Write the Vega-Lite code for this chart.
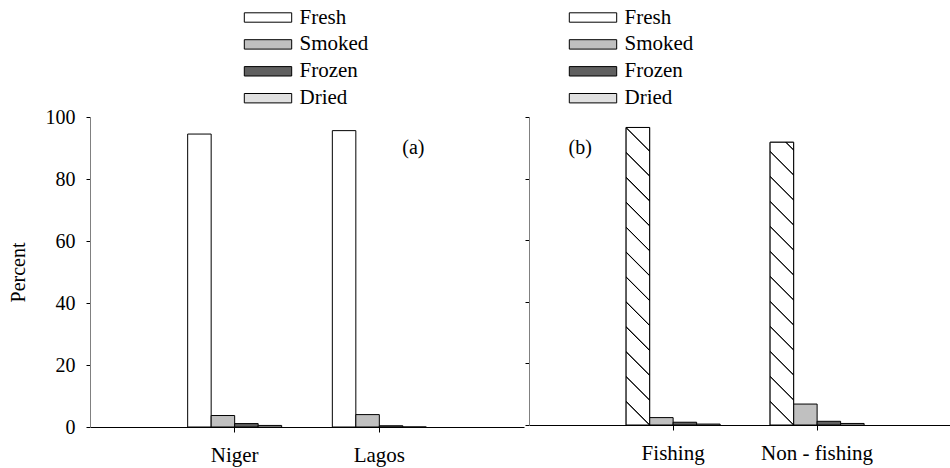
{
  "$schema": "https://vega.github.io/schema/vega-lite/v6.json",
  "padding": {"left": 8, "top": 7, "right": 0, "bottom": 4},
  "config": {
    "view": {"stroke": null},
    "font": "Liberation Serif",
    "axis": {"grid": false, "labelFont": "Liberation Serif", "titleFont": "Liberation Serif", "labelColor": "#000", "titleColor": "#000", "tickColor": "#000", "labelFontSize": 20, "titleFontSize": 20, "titleFontWeight": "normal"},
    "legend": {"labelFont": "Liberation Serif", "labelFontSize": 21, "labelColor": "#000"},
    "text": {"font": "Liberation Serif", "fontSize": 20, "color": "#000"}
  },
  "datasets": {
    "a": [
      {"site": "Niger", "type": "Fresh", "percent": 94.5},
      {"site": "Niger", "type": "Smoked", "percent": 3.7},
      {"site": "Niger", "type": "Frozen", "percent": 1.1},
      {"site": "Niger", "type": "Dried", "percent": 0.5},
      {"site": "Lagos", "type": "Fresh", "percent": 95.6},
      {"site": "Lagos", "type": "Smoked", "percent": 4.0},
      {"site": "Lagos", "type": "Frozen", "percent": 0.4},
      {"site": "Lagos", "type": "Dried", "percent": 0.0}
    ],
    "b": [
      {"group": "Fishing", "type": "Fresh", "percent": 96.6},
      {"group": "Fishing", "type": "Smoked", "percent": 2.4},
      {"group": "Fishing", "type": "Frozen", "percent": 0.9},
      {"group": "Fishing", "type": "Dried", "percent": 0.3},
      {"group": "Non - fishing", "type": "Fresh", "percent": 91.8},
      {"group": "Non - fishing", "type": "Smoked", "percent": 6.8},
      {"group": "Non - fishing", "type": "Frozen", "percent": 1.2},
      {"group": "Non - fishing", "type": "Dried", "percent": 0.5}
    ]
  },
  "spacing": 0,
  "resolve": {"scale": {"x": "independent", "y": "independent", "fill": "independent", "xOffset": "independent"}, "legend": {"fill": "independent"}, "axis": {"x": "independent", "y": "independent"}},
  "hconcat": [
    {
      "width": 434,
      "height": 310,
      "layer": [
        {
          "data": {"name": "a"},
          "mark": {"type": "bar", "stroke": "#000", "strokeWidth": 1},
          "encoding": {
            "x": {"field": "site", "type": "nominal", "sort": null, "scale": {"paddingInner": 0.3502, "paddingOuter": 0.6751}, "axis": {"title": null, "labelAngle": 0, "tickSize": 5, "labelPadding": 12, "labelFontSize": 21, "domainColor": "#000", "domainWidth": 1}},
            "xOffset": {"field": "type", "type": "nominal", "sort": null, "scale": {"paddingInner": 0, "paddingOuter": 0}},
            "y": {"field": "percent", "type": "quantitative", "scale": {"domain": [0, 100], "nice": false}, "axis": {"title": "Percent", "values": [0, 20, 40, 60, 80, 100], "tickSize": 4, "labelPadding": 11, "titlePadding": 17, "domainColor": "#808080", "domainWidth": 1}},
            "fill": {
              "field": "type", "type": "nominal",
              "scale": {"domain": ["Fresh", "Smoked", "Frozen", "Dried"], "range": ["#ffffff", "#c0c0c0", "#606060", "#e0e0e0"]},
              "legend": {"title": null, "orient": "none", "legendX": 167.5, "legendY": -110, "direction": "vertical", "symbolType": "M-4.74,-0.94H4.74V0.94H-4.74Z", "symbolSize": 100, "symbolStrokeColor": "#000", "symbolStrokeWidth": 1, "labelOffset": 21, "rowPadding": 4.9, "padding": 0}
            }
          }
        },
        {
          "data": {"values": [{"label": "(a)"}]},
          "mark": {"type": "text", "dx": 34, "fontSize": 20},
          "encoding": {
            "x": {"datum": "Lagos", "type": "nominal"},
            "y": {"datum": 90, "type": "quantitative"},
            "text": {"field": "label", "type": "nominal"}
          }
        }
      ]
    },
    {
      "width": 423,
      "height": 308,
      "layer": [
        {
          "data": {"name": "b"},
          "mark": {"type": "bar", "stroke": "#000", "strokeWidth": 1},
          "encoding": {
            "x": {"field": "group", "type": "nominal", "sort": null, "scale": {"paddingInner": 0.3472, "paddingOuter": 0.6424, "align": 0.525}, "axis": {"title": null, "labelAngle": 0, "tickSize": 5, "labelPadding": 12, "labelFontSize": 21, "domainColor": "#000", "domainWidth": 1}},
            "xOffset": {"field": "type", "type": "nominal", "sort": null, "scale": {"paddingInner": 0, "paddingOuter": 0}},
            "y": {"field": "percent", "type": "quantitative", "scale": {"domain": [0, 100], "nice": false}, "axis": {"title": null, "labels": false, "values": [0, 20, 40, 60, 80, 100], "tickSize": 4, "domainColor": "#808080", "domainWidth": 1}},
            "fill": {
              "field": "type", "type": "nominal",
              "scale": {"domain": ["Fresh", "Smoked", "Frozen", "Dried"], "range": ["#ffffff", "#c0c0c0", "#606060", "#e0e0e0"]},
              "legend": {"title": null, "orient": "none", "legendX": 53.5, "legendY": -110, "direction": "vertical", "symbolType": "M-4.74,-0.94H4.74V0.94H-4.74Z", "symbolSize": 100, "symbolStrokeColor": "#000", "symbolStrokeWidth": 1, "labelOffset": 21, "rowPadding": 4.9, "padding": 0,
                "encode": {"symbols": {"update": {
                  "stroke": {"value": "#000000"},
                  "strokeWidth": {"value": 1}
                }}}
              }
            }
          }
        },
        {
          "data": {"name": "b"},
          "transform": [{"filter": "datum.type === 'Fresh' && datum.group === 'Fishing'"}],
          "mark": {"type": "bar", "stroke": "#000", "strokeWidth": 1, "fill": {"gradient": "linear", "x1": 0, "y1": 1, "x2": 0.0853, "y2": -0.08, "stops": [
                  {"offset": 0, "color": "#ffffff"},
                  {"offset": 0.0691, "color": "#ffffff"}, {"offset": 0.0716, "color": "#000000"}, {"offset": 0.0736, "color": "#000000"}, {"offset": 0.0761, "color": "#ffffff"},
                  {"offset": 0.1461, "color": "#ffffff"}, {"offset": 0.1486, "color": "#000000"}, {"offset": 0.1506, "color": "#000000"}, {"offset": 0.1531, "color": "#ffffff"},
                  {"offset": 0.2231, "color": "#ffffff"}, {"offset": 0.2256, "color": "#000000"}, {"offset": 0.2276, "color": "#000000"}, {"offset": 0.2301, "color": "#ffffff"},
                  {"offset": 0.3001, "color": "#ffffff"}, {"offset": 0.3026, "color": "#000000"}, {"offset": 0.3046, "color": "#000000"}, {"offset": 0.3071, "color": "#ffffff"},
                  {"offset": 0.3771, "color": "#ffffff"}, {"offset": 0.3796, "color": "#000000"}, {"offset": 0.3816, "color": "#000000"}, {"offset": 0.3841, "color": "#ffffff"},
                  {"offset": 0.4541, "color": "#ffffff"}, {"offset": 0.4566, "color": "#000000"}, {"offset": 0.4586, "color": "#000000"}, {"offset": 0.4611, "color": "#ffffff"},
                  {"offset": 0.5311, "color": "#ffffff"}, {"offset": 0.5336, "color": "#000000"}, {"offset": 0.5356, "color": "#000000"}, {"offset": 0.5381, "color": "#ffffff"},
                  {"offset": 0.6081, "color": "#ffffff"}, {"offset": 0.6106, "color": "#000000"}, {"offset": 0.6126, "color": "#000000"}, {"offset": 0.6151, "color": "#ffffff"},
                  {"offset": 0.6851, "color": "#ffffff"}, {"offset": 0.6876, "color": "#000000"}, {"offset": 0.6896, "color": "#000000"}, {"offset": 0.6921, "color": "#ffffff"},
                  {"offset": 0.7621, "color": "#ffffff"}, {"offset": 0.7646, "color": "#000000"}, {"offset": 0.7666, "color": "#000000"}, {"offset": 0.7691, "color": "#ffffff"},
                  {"offset": 0.8391, "color": "#ffffff"}, {"offset": 0.8416, "color": "#000000"}, {"offset": 0.8436, "color": "#000000"}, {"offset": 0.8461, "color": "#ffffff"},
                  {"offset": 0.9161, "color": "#ffffff"}, {"offset": 0.9186, "color": "#000000"}, {"offset": 0.9206, "color": "#000000"}, {"offset": 0.9231, "color": "#ffffff"},
                  {"offset": 1, "color": "#ffffff"}
                ]}},
          "encoding": {
            "x": {"field": "group", "type": "nominal", "sort": null},
            "xOffset": {"field": "type", "type": "nominal", "sort": null},
            "y": {"field": "percent", "type": "quantitative"}
          }
        },
        {
          "data": {"name": "b"},
          "transform": [{"filter": "datum.type === 'Fresh' && datum.group === 'Non - fishing'"}],
          "mark": {"type": "bar", "stroke": "#000", "strokeWidth": 1, "fill": {"gradient": "linear", "x1": 0, "y1": 1, "x2": 0.0898, "y2": -0.08, "stops": [
                  {"offset": 0, "color": "#ffffff"},
                  {"offset": 0.0729, "color": "#ffffff"}, {"offset": 0.0754, "color": "#000000"}, {"offset": 0.0774, "color": "#000000"}, {"offset": 0.0799, "color": "#ffffff"},
                  {"offset": 0.1542, "color": "#ffffff"}, {"offset": 0.1567, "color": "#000000"}, {"offset": 0.1587, "color": "#000000"}, {"offset": 0.1612, "color": "#ffffff"},
                  {"offset": 0.2355, "color": "#ffffff"}, {"offset": 0.238, "color": "#000000"}, {"offset": 0.24, "color": "#000000"}, {"offset": 0.2425, "color": "#ffffff"},
                  {"offset": 0.3168, "color": "#ffffff"}, {"offset": 0.3193, "color": "#000000"}, {"offset": 0.3213, "color": "#000000"}, {"offset": 0.3238, "color": "#ffffff"},
                  {"offset": 0.3981, "color": "#ffffff"}, {"offset": 0.4006, "color": "#000000"}, {"offset": 0.4026, "color": "#000000"}, {"offset": 0.4051, "color": "#ffffff"},
                  {"offset": 0.4794, "color": "#ffffff"}, {"offset": 0.4819, "color": "#000000"}, {"offset": 0.4839, "color": "#000000"}, {"offset": 0.4864, "color": "#ffffff"},
                  {"offset": 0.5607, "color": "#ffffff"}, {"offset": 0.5632, "color": "#000000"}, {"offset": 0.5652, "color": "#000000"}, {"offset": 0.5677, "color": "#ffffff"},
                  {"offset": 0.642, "color": "#ffffff"}, {"offset": 0.6445, "color": "#000000"}, {"offset": 0.6465, "color": "#000000"}, {"offset": 0.649, "color": "#ffffff"},
                  {"offset": 0.7233, "color": "#ffffff"}, {"offset": 0.7258, "color": "#000000"}, {"offset": 0.7278, "color": "#000000"}, {"offset": 0.7303, "color": "#ffffff"},
                  {"offset": 0.8046, "color": "#ffffff"}, {"offset": 0.8071, "color": "#000000"}, {"offset": 0.8091, "color": "#000000"}, {"offset": 0.8116, "color": "#ffffff"},
                  {"offset": 0.8859, "color": "#ffffff"}, {"offset": 0.8884, "color": "#000000"}, {"offset": 0.8904, "color": "#000000"}, {"offset": 0.8929, "color": "#ffffff"},
                  {"offset": 0.9672, "color": "#ffffff"}, {"offset": 0.9697, "color": "#000000"}, {"offset": 0.9717, "color": "#000000"}, {"offset": 0.9742, "color": "#ffffff"},
                  {"offset": 1, "color": "#ffffff"}
                ]}},
          "encoding": {
            "x": {"field": "group", "type": "nominal", "sort": null},
            "xOffset": {"field": "type", "type": "nominal", "sort": null},
            "y": {"field": "percent", "type": "quantitative"}
          }
        },
        {
          "data": {"values": [{"label": "(b)"}]},
          "mark": {"type": "text", "dx": -93, "fontSize": 20},
          "encoding": {
            "x": {"datum": "Fishing", "type": "nominal"},
            "y": {"datum": 90, "type": "quantitative"},
            "text": {"field": "label", "type": "nominal"}
          }
        }
      ]
    }
  ]
}
